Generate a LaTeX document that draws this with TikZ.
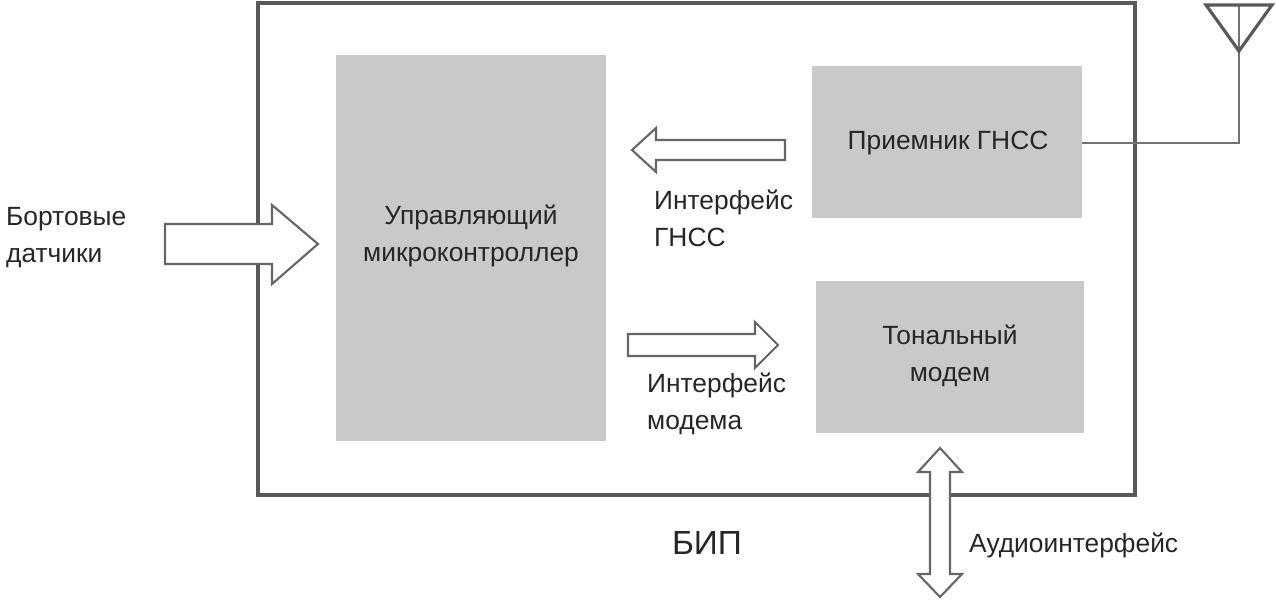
\documentclass[tikz,border=0pt]{standalone}
\usepackage{fontspec}
\setmainfont{Liberation Sans}
\begin{document}
\begin{tikzpicture}[x=0.02cm,y=-0.02cm,
  blk/.style={fill=black!21,draw=none},
  lbl/.style={font=\fontsize{15}{21}\selectfont,align=center,text=black!85},
  llbl/.style={font=\fontsize{15}{21}\selectfont,align=left,text=black!85,anchor=west},
  harrow/.style={draw=black!60,line width=1.2pt,fill=white},
  wire/.style={draw=black!55,line width=0.8pt}]
\useasboundingbox (0,0) rectangle (1276,605);
\draw[draw=black!65,line width=1.8pt] (258,3) rectangle (1135,495);
\fill[blk] (336,55) rectangle (606,441);
\fill[blk] (812,66) rectangle (1082,218);
\fill[blk] (816,281) rectangle (1084,433);
\node[lbl] (mcu) at (471,236) {Управляющий\\микроконтроллер};
\node[lbl] (gnss) at (948,143) {Приемник ГНСС};
\node[lbl] (modem) at (950,356) {Тональный\\модем};
% antenna
\coordinate (ant) at (1239,143);
\coordinate (rx) at (1082,143);
\draw[wire] (rx) -- (ant) -- (1239,5);
\draw[draw=black!65,line width=1.8pt,line join=miter] (1206,5) -- (1272,5) -- (1239,51) -- cycle;
% arrows
\draw[harrow] (785,140) -- (656,140) -- (656,128) -- (632,150) -- (656,172) -- (656,160) -- (785,160) -- cycle;
\draw[harrow] (628,334) -- (755,334) -- (755,322) -- (778,345) -- (755,368) -- (755,356) -- (628,356) -- cycle;
\draw[harrow] (165,224) -- (272,224) -- (272,205) -- (318,244) -- (272,284) -- (272,264) -- (165,264) -- cycle;
\draw[harrow] (930,472) -- (918,472) -- (940,448) -- (962,472) -- (950,472) -- (950,574) -- (962,574) -- (940,597) -- (918,574) -- (930,574) -- cycle;
% labels
\node[llbl] (sens) at (0,238) {Бортовые\\датчики};
\node[llbl] (ig) at (648,218) {Интерфейс\\ГНСС};
\node[llbl] (im) at (641,404) {Интерфейс\\модема};
\node[font=\fontsize{19}{23}\selectfont,text=black!85] (bip) at (707,543) {БИП};
\node[llbl] (audio) at (963,545) {Аудиоинтерфейс};
\end{tikzpicture}
\end{document}
